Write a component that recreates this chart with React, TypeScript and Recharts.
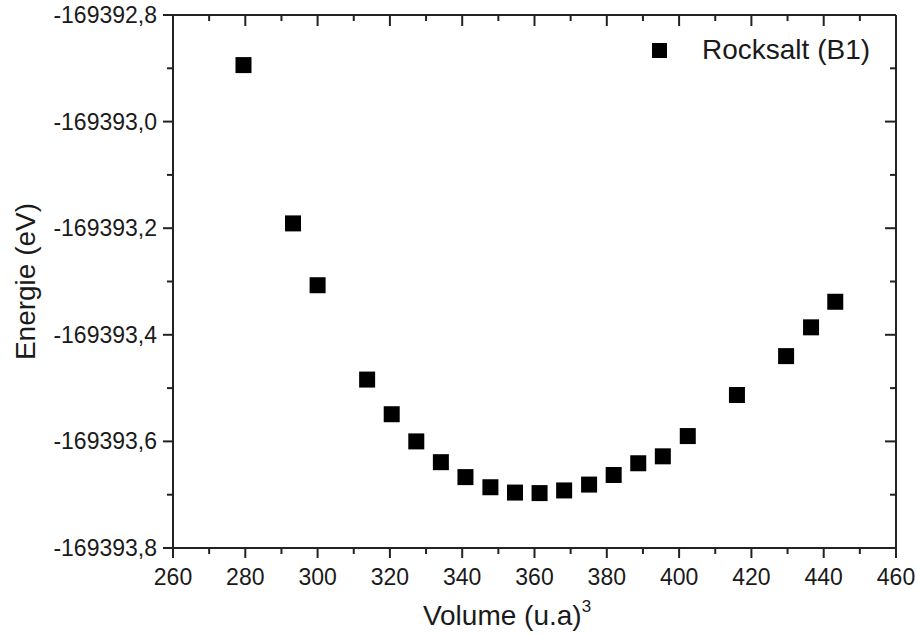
import { ScatterChart, Scatter, XAxis, YAxis, Legend } from 'recharts'

// Volume (u.a)^3
const volume = [
  279.5, 293.2, 300.0, 313.7, 320.5, 327.3, 334.1, 340.9, 347.8, 354.6, 361.4,
  368.2, 375.1, 381.9, 388.7, 395.5, 402.4, 416.0, 429.6, 436.5, 443.2,
]

// Energie (eV)
const energie = [
  -169392.894, -169393.191, -169393.307, -169393.484, -169393.549, -169393.6,
  -169393.639, -169393.667, -169393.686, -169393.696, -169393.697, -169393.692,
  -169393.681, -169393.663, -169393.641, -169393.628, -169393.59, -169393.513,
  -169393.44, -169393.386, -169393.338,
]

const xTicks = [260, 270, 280, 290, 300, 310, 320, 330, 340, 350, 360, 370, 380, 390, 400, 410, 420, 430, 440, 450, 460]
const yTicks = [
  -169393.8, -169393.7, -169393.6, -169393.5, -169393.4, -169393.3,
  -169393.2, -169393.1, -169393.0, -169392.9, -169392.8,
]

const seriesName = 'Rocksalt (B1)'

const data = volume.map((v, i) => ({ volume: v, energie: energie[i] }))

const FONT = '"Liberation Sans", Arial, sans-serif'
const INK = '#1a1a1a'
const AXIS = '#222'

const isMajorX = (v: number) => Math.round(v) % 20 === 0
const isMajorY = (v: number) => Math.abs(Math.round(v * 10)) % 2 === 0
const fmtY = (v: number) => v.toFixed(1).replace('.', ',')

// bottom axis: outward ticks + labels
const BottomTick = ({ x, y, payload }: any) => {
  const major = isMajorX(payload.value)
  return (
    <g>
      <line x1={x} x2={x} y1={y} y2={y + (major ? 10 : 6)} stroke={AXIS} strokeWidth={2} />
      {major && (
        <text x={x} y={y + 37} textAnchor='middle' fontSize={23} fontFamily={FONT} fill={INK}>
          {payload.value}
        </text>
      )}
    </g>
  )
}

// top axis: inward ticks only
const TopTick = ({ x, y, payload }: any) => {
  const major = isMajorX(payload.value)
  return <line x1={x} x2={x} y1={y} y2={y + (major ? 11 : 6)} stroke={AXIS} strokeWidth={2} />
}

const LeftTick = ({ x, y, payload }: any) => {
  const major = isMajorY(payload.value)
  return (
    <g>
      <line x1={x} x2={x - (major ? 10 : 6)} y1={y} y2={y} stroke={AXIS} strokeWidth={2} />
      {major && (
        <text x={x - 16} y={y} dy={8} textAnchor='end' fontSize={23} fontFamily={FONT} fill={INK}>
          {fmtY(payload.value)}
        </text>
      )}
    </g>
  )
}

const RightTick = ({ x, y, payload }: any) => {
  const major = isMajorY(payload.value)
  return <line x1={x} x2={x - (major ? 11 : 6)} y1={y} y2={y} stroke={AXIS} strokeWidth={2} />
}

const Square = ({ cx, cy }: any) => <rect x={cx - 8} y={cy - 8} width={16} height={16} fill='#000' />
const Nothing = () => <g />

const LegendBox = () => (
  <div style={{ display: 'flex', alignItems: 'center', fontFamily: FONT }}>
    <span style={{ display: 'inline-block', width: 15, height: 15, background: '#000', marginRight: 35 }} />
    <span style={{ fontSize: 28, color: INK, lineHeight: 'normal' }}>{seriesName}</span>
  </div>
)

export default function App() {
  return (
    <div style={{ position: 'absolute', left: 0, top: 0, background: '#fff' }}>
      <ScatterChart width={917} height={634} margin={{ top: 14, right: 20, bottom: 0, left: 0 }}>
        <XAxis
          xAxisId='bottom'
          dataKey='volume'
          type='number'
          orientation='bottom'
          domain={[260, 460]}
          ticks={xTicks}
          interval={0}
          allowDataOverflow
          height={86}
          tickSize={0}
          tickMargin={0}
          tickLine={false}
          tick={<BottomTick />}
          axisLine={{ stroke: AXIS, strokeWidth: 2 }}
          label={({ viewBox }: any) => (
            <text x={507} y={viewBox.y + 77} textAnchor='middle' fontSize={28} fontFamily={FONT} fill={INK}>
              Volume (u.a)
              <tspan fontSize={17} dy={-13}>3</tspan>
            </text>
          )}
        />
        <XAxis
          xAxisId='top'
          dataKey='volume'
          type='number'
          orientation='top'
          domain={[260, 460]}
          ticks={xTicks}
          interval={0}
          allowDataOverflow
          height={1}
          tickSize={0}
          tickMargin={0}
          tickLine={false}
          tick={<TopTick />}
          axisLine={{ stroke: AXIS, strokeWidth: 2 }}
        />
        <YAxis
          yAxisId='left'
          dataKey='energie'
          type='number'
          orientation='left'
          domain={[-169393.8, -169392.8]}
          ticks={yTicks}
          interval={0}
          allowDataOverflow
          width={173}
          tickSize={0}
          tickMargin={0}
          tickLine={false}
          tick={<LeftTick />}
          axisLine={{ stroke: AXIS, strokeWidth: 2 }}
          label={({ viewBox }: any) => {
            const cx = 25
            const cy = viewBox.y + viewBox.height / 2
            return (
              <text
                x={cx}
                y={cy}
                dy={10}
                transform={`rotate(-90 ${cx} ${cy})`}
                textAnchor='middle'
                fontSize={28}
                fontFamily={FONT}
                fill={INK}
              >
                Energie (eV)
              </text>
            )
          }}
        />
        <YAxis
          yAxisId='right'
          dataKey='energie'
          type='number'
          orientation='right'
          domain={[-169393.8, -169392.8]}
          ticks={yTicks}
          interval={0}
          allowDataOverflow
          width={1}
          tickSize={0}
          tickMargin={0}
          tickLine={false}
          tick={<RightTick />}
          axisLine={{ stroke: AXIS, strokeWidth: 2 }}
        />
        <Legend
          verticalAlign='middle'
          align='center'
          layout='horizontal'
          wrapperStyle={{ top: 34, left: 652, width: 260 }}
          content={<LegendBox />}
        />
        <Scatter
          name={seriesName}
          data={data}
          xAxisId='bottom'
          yAxisId='left'
          fill='#000'
          shape={<Square />}
          isAnimationActive={false}
        />
        {/* frame only: binds the top/right axes, draws nothing */}
        <Scatter
          data={data}
          xAxisId='top'
          yAxisId='right'
          shape={<Nothing />}
          legendType='none'
          isAnimationActive={false}
        />
      </ScatterChart>
    </div>
  )
}
